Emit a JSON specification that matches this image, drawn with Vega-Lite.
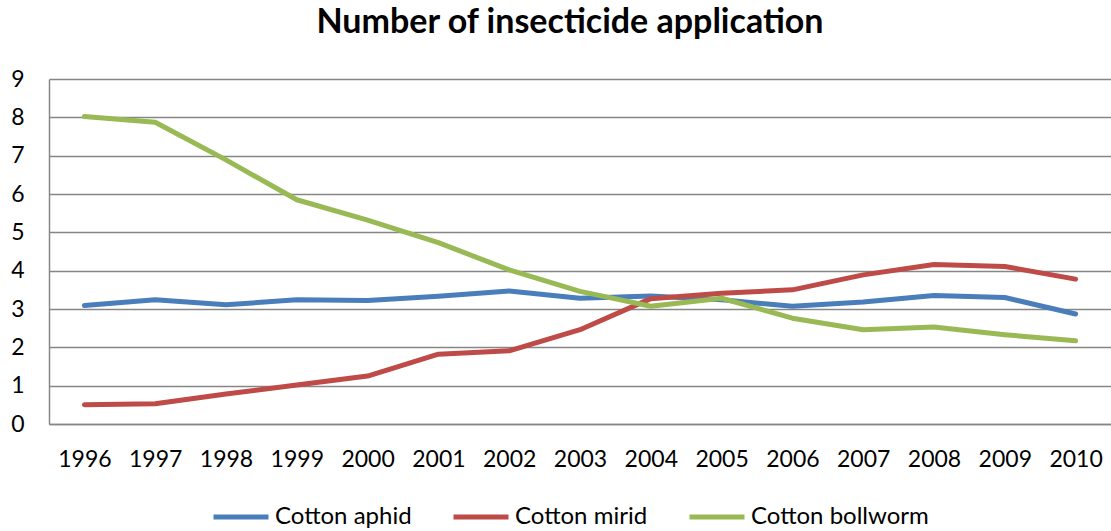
{
  "$schema": "https://vega.github.io/schema/vega-lite/v6.json",
  "autosize": {"type": "none"},
  "width": 1062,
  "height": 345,
  "padding": {"left": 49, "top": 79, "right": 0, "bottom": 107},
  "background": "white",
  "title": {
    "text": "Number of insecticide application",
    "font": "Lato",
    "fontSize": 34,
    "fontWeight": "bold",
    "color": "#000000",
    "anchor": "middle",
    "dx": -10,
    "offset": 28
  },
  "config": {
    "view": {"stroke": null},
    "font": "Lato"
  },
  "data": {
    "values": [
      {"year": "1996", "pest": "Cotton aphid", "value": 3.09},
      {"year": "1997", "pest": "Cotton aphid", "value": 3.24},
      {"year": "1998", "pest": "Cotton aphid", "value": 3.11},
      {"year": "1999", "pest": "Cotton aphid", "value": 3.24},
      {"year": "2000", "pest": "Cotton aphid", "value": 3.22},
      {"year": "2001", "pest": "Cotton aphid", "value": 3.33},
      {"year": "2002", "pest": "Cotton aphid", "value": 3.47},
      {"year": "2003", "pest": "Cotton aphid", "value": 3.28},
      {"year": "2004", "pest": "Cotton aphid", "value": 3.34},
      {"year": "2005", "pest": "Cotton aphid", "value": 3.24},
      {"year": "2006", "pest": "Cotton aphid", "value": 3.07},
      {"year": "2007", "pest": "Cotton aphid", "value": 3.18},
      {"year": "2008", "pest": "Cotton aphid", "value": 3.35},
      {"year": "2009", "pest": "Cotton aphid", "value": 3.3},
      {"year": "2010", "pest": "Cotton aphid", "value": 2.87},
      {"year": "1996", "pest": "Cotton mirid", "value": 0.5},
      {"year": "1997", "pest": "Cotton mirid", "value": 0.53},
      {"year": "1998", "pest": "Cotton mirid", "value": 0.78},
      {"year": "1999", "pest": "Cotton mirid", "value": 1.02},
      {"year": "2000", "pest": "Cotton mirid", "value": 1.25},
      {"year": "2001", "pest": "Cotton mirid", "value": 1.82},
      {"year": "2002", "pest": "Cotton mirid", "value": 1.91},
      {"year": "2003", "pest": "Cotton mirid", "value": 2.46},
      {"year": "2004", "pest": "Cotton mirid", "value": 3.27},
      {"year": "2005", "pest": "Cotton mirid", "value": 3.41},
      {"year": "2006", "pest": "Cotton mirid", "value": 3.5},
      {"year": "2007", "pest": "Cotton mirid", "value": 3.89},
      {"year": "2008", "pest": "Cotton mirid", "value": 4.16},
      {"year": "2009", "pest": "Cotton mirid", "value": 4.11},
      {"year": "2010", "pest": "Cotton mirid", "value": 3.78},
      {"year": "1996", "pest": "Cotton bollworm", "value": 8.02},
      {"year": "1997", "pest": "Cotton bollworm", "value": 7.87},
      {"year": "1998", "pest": "Cotton bollworm", "value": 6.89},
      {"year": "1999", "pest": "Cotton bollworm", "value": 5.85},
      {"year": "2000", "pest": "Cotton bollworm", "value": 5.32},
      {"year": "2001", "pest": "Cotton bollworm", "value": 4.73},
      {"year": "2002", "pest": "Cotton bollworm", "value": 4.02},
      {"year": "2003", "pest": "Cotton bollworm", "value": 3.46},
      {"year": "2004", "pest": "Cotton bollworm", "value": 3.07},
      {"year": "2005", "pest": "Cotton bollworm", "value": 3.28},
      {"year": "2006", "pest": "Cotton bollworm", "value": 2.76},
      {"year": "2007", "pest": "Cotton bollworm", "value": 2.46},
      {"year": "2008", "pest": "Cotton bollworm", "value": 2.53},
      {"year": "2009", "pest": "Cotton bollworm", "value": 2.33},
      {"year": "2010", "pest": "Cotton bollworm", "value": 2.17}
    ]
  },
  "mark": {"type": "line", "strokeWidth": 5, "strokeCap": "round", "strokeJoin": "round"},
  "encoding": {
    "x": {
      "field": "year",
      "type": "ordinal",
      "scale": {"type": "point", "padding": 0.5},
      "axis": {
        "title": null,
        "labelAngle": 0,
        "labelFont": "Lato",
        "labelFontSize": 23,
        "labelColor": "#000000",
        "labelPadding": 24,
        "ticks": false,
        "domain": true,
        "domainColor": "#868686",
        "domainWidth": 1.5,
        "grid": false
      }
    },
    "y": {
      "field": "value",
      "type": "quantitative",
      "scale": {"domain": [0, 9], "nice": false, "zero": true},
      "axis": {
        "title": null,
        "values": [0, 1, 2, 3, 4, 5, 6, 7, 8, 9],
        "labelFont": "Lato",
        "labelFontSize": 23,
        "labelColor": "#000000",
        "labelPadding": 25,
        "ticks": false,
        "domain": true,
        "domainColor": "#868686",
        "domainWidth": 1.5,
        "grid": true,
        "gridColor": "#868686",
        "gridWidth": 1.5
      }
    },
    "color": {
      "field": "pest",
      "type": "nominal",
      "sort": ["Cotton aphid", "Cotton mirid", "Cotton bollworm"],
      "scale": {
        "domain": ["Cotton aphid", "Cotton mirid", "Cotton bollworm"],
        "range": ["#4A7EBB", "#BE4B48", "#98B954"]
      },
      "legend": {
        "title": null,
        "orient": "none",
        "direction": "horizontal",
        "legendX": 162,
        "legendY": 408,
        "symbolType": "stroke",
        "symbolSize": 3025,
        "symbolStrokeWidth": 5,
        "labelFont": "Lato",
        "labelFontSize": 24,
        "labelLimit": 400,
        "labelColor": "#000000",
        "labelOffset": 4,
        "columnPadding": 31
      }
    }
  }
}
